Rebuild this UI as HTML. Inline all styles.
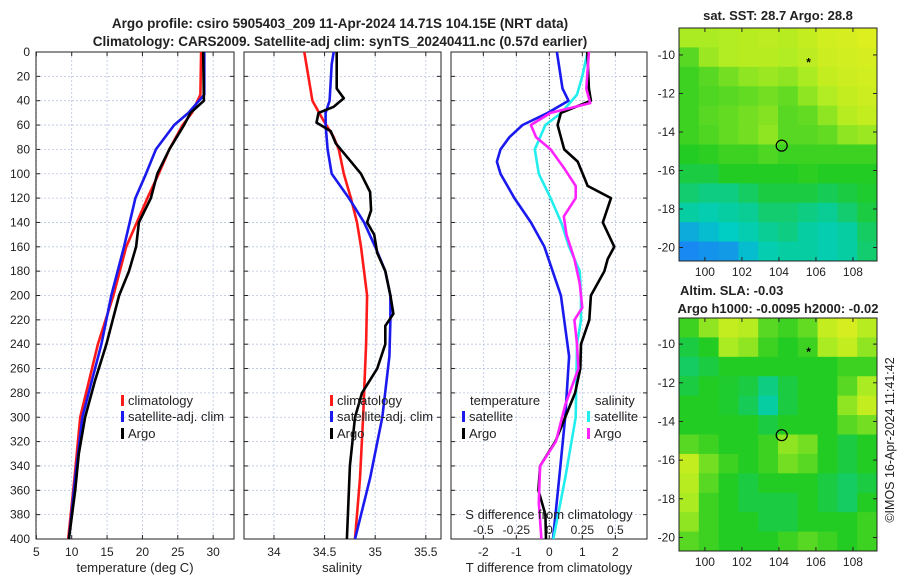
<!DOCTYPE html>
<html><head><meta charset="utf-8"><style>
body{margin:0;background:#fff;}
svg{display:block;font-family:"Liberation Sans","DejaVu Sans",sans-serif;}
</style></head><body>
<svg id="chart" width="900" height="580" viewBox="0 0 900 580"></svg>
<script>
// ---------- data ----------
const tDepthClim = [0,35,50,60,80,100,120,160,200,240,300,350,400];
const tClim      = [28.3,28.2,27.0,25.7,23.8,22.3,20.7,17.7,15.9,13.7,11.2,10.4,9.5];
const tDepthSat  = [0,35,50,60,80,100,120,160,200,240,300,350,400];
const tSat       = [28.75,28.75,26.5,24.5,21.9,20.5,19.0,17.4,15.6,14.2,11.5,10.5,9.6];
const tDepthArgo = [0,40,50,60,80,100,120,140,160,180,200,240,270,300,330,360,400];
const tArgo      = [28.6,28.7,26.8,25.9,23.8,22.1,21.2,19.5,19.1,18.1,16.7,14.9,13.3,11.9,11.0,10.5,9.6];

const sDepthClim = [0,40,55,70,80,100,120,140,160,200,240,300,350,400];
const sClim      = [34.30,34.38,34.48,34.59,34.64,34.69,34.76,34.82,34.86,34.92,34.91,34.88,34.85,34.80];
const sDepthSat  = [0,10,40,50,60,80,100,120,140,160,180,200,220,250,300,350,400];
const sSat       = [34.59,34.57,34.55,34.51,34.51,34.53,34.57,34.74,34.89,35.00,35.10,35.15,35.15,35.14,35.07,34.95,34.80];
const sDepthArgo = [0,30,38,45,50,58,65,75,90,100,115,130,140,150,165,180,200,215,225,240,260,280,300,340,400];
const sArgo      = [34.62,34.62,34.69,34.59,34.44,34.42,34.56,34.61,34.76,34.86,34.95,34.96,34.92,34.99,35.02,35.10,35.15,35.18,35.10,35.10,35.02,34.87,34.80,34.75,34.72];

const dDepthTSat = [0,30,40,50,60,70,80,90,100,120,140,160,180,200,220,250,300,350,400];
const dTSat      = [0.23,0.40,0.58,-0.05,-0.81,-1.21,-1.48,-1.59,-1.48,-1.06,-0.56,-0.15,0.10,0.35,0.45,0.60,0.48,0.30,0.11];
const dDepthSSat = [0,20,35,50,60,80,100,120,140,160,180,200,220,240,300,350,400];
const dSSat      = [0.29,0.25,0.21,0.09,-0.03,-0.11,-0.08,0.01,0.09,0.15,0.23,0.24,0.24,0.21,0.20,0.12,0.03];
const dDepthTArgo= [0,30,40,50,60,70,80,90,100,110,120,140,160,170,180,200,220,240,260,280,300,320,340,360,380,400];
const dTArgo     = [1.15,1.20,1.26,0.35,0.25,0.35,0.45,0.86,1.01,1.16,1.87,1.62,1.97,1.77,1.67,1.26,1.21,0.96,0.94,0.78,0.48,0.18,-0.28,-0.33,-0.12,-0.10];
const dDepthSArgo= [0,30,42,50,60,70,80,95,110,120,135,150,170,190,210,220,240,260,290,320,340,370,400];
const dSArgo     = [0.30,0.28,0.31,0.01,-0.14,-0.10,0.01,0.11,0.20,0.20,0.11,0.13,0.19,0.23,0.25,0.19,0.21,0.22,0.12,0.05,-0.07,-0.08,-0.06];

const depthTicks = [0,20,40,60,80,100,120,140,160,180,200,220,240,260,280,300,320,340,360,380,400];
const tTicks = [5,10,15,20,25,30];
const sTicks = [34,34.5,35,35.5];
const dTTicks = [-2,-1,0,1,2];
const dSTicks = [-0.5,-0.25,0,0.25,0.5];
const lonTicks = [100,102,104,106,108];
const latTicks = [-10,-12,-14,-16,-18,-20];

const sstGrid = [
[.75,.75,.78,.8,.82,.8,.85,.9,.92,.95],
[.6,.72,.78,.8,.8,.78,.82,.88,.9,.92],
[.55,.6,.65,.7,.72,.7,.75,.85,.88,.9],
[.55,.58,.6,.62,.65,.62,.7,.78,.85,.88],
[.55,.6,.62,.65,.68,.6,.62,.7,.8,.85],
[.55,.58,.62,.65,.7,.6,.6,.62,.7,.72],
[.5,.52,.55,.55,.58,.55,.55,.55,.55,.55],
[.45,.45,.5,.5,.5,.5,.52,.5,.5,.5],
[.38,.35,.35,.4,.45,.45,.45,.42,.45,.48],
[.3,.28,.3,.32,.38,.38,.35,.32,.38,.45],
[.15,.2,.25,.28,.32,.35,.3,.28,.3,.4],
[.05,.08,.1,.2,.28,.3,.3,.28,.3,.38]];
const slaGrid = [
[.55,.7,.85,.8,.6,.55,.62,.85,.92,.8],
[.45,.5,.75,.7,.55,.5,.55,.75,.85,.7],
[.4,.45,.5,.5,.5,.5,.5,.5,.55,.55],
[.45,.5,.48,.45,.35,.45,.5,.5,.6,.75],
[.5,.5,.48,.42,.3,.45,.5,.5,.7,.85],
[.5,.5,.5,.5,.45,.5,.5,.5,.6,.65],
[.6,.55,.5,.5,.55,.7,.65,.5,.45,.5],
[.85,.65,.55,.5,.55,.65,.6,.5,.45,.5],
[.8,.6,.5,.45,.5,.5,.5,.45,.4,.45],
[.75,.55,.5,.45,.45,.45,.5,.45,.4,.5],
[.7,.55,.5,.5,.45,.45,.5,.5,.5,.55],
[.6,.55,.5,.5,.5,.55,.6,.55,.5,.55]];

// ---------- helpers ----------
const svg = document.getElementById('chart');
const NS = 'http://www.w3.org/2000/svg';
function mk(tag, attrs, parent){const e=document.createElementNS(NS,tag);for(const k in attrs)e.setAttribute(k,attrs[k]);(parent||svg).appendChild(e);return e;}
function txt(x,y,s,attrs){const e=mk('text',Object.assign({x:x,y:y,'font-size':12,fill:'#222'},attrs||{}));e.textContent=s;return e;}

const Y0=52, Y1=539;
const yD = d => Y0 + (d/400)*(Y1-Y0);
const panels = [
 {x0:36,x1:234,min:4.95,max:32.95,ticks:tTicks},
 {x0:244,x1:441,min:33.704,max:35.65,ticks:sTicks},
 {x0:451,x1:647,min:-2.98,max:2.96,ticks:dTTicks}
];
function xf(p){return v=>p.x0+(v-p.min)/(p.max-p.min)*(p.x1-p.x0);}
const xT = xf(panels[0]), xS = xf(panels[1]), xDT = xf(panels[2]);
const xDS = v => xDT(v*4);

panels.forEach((p,i)=>{
  const g=mk('g',{});
  
  
  mk('rect',{x:p.x0,y:Y0,width:p.x1-p.x0,height:Y1-Y0,fill:'#fff'},g);
  const xs=xf(p);
  depthTicks.forEach(d=>{
    mk('line',{x1:p.x0,x2:p.x1,y1:yD(d),y2:yD(d),stroke:'#b8c4e0','stroke-width':0.8,'stroke-dasharray':'2,2'},g);
    mk('line',{x1:p.x0,x2:p.x0+4,y1:yD(d),y2:yD(d),stroke:'#222'},g);
    mk('line',{x1:p.x1-4,x2:p.x1,y1:yD(d),y2:yD(d),stroke:'#222'},g);
  });
  p.ticks.forEach(t=>{
    const x=xs(t);
    mk('line',{x1:x,x2:x,y1:Y0,y2:Y1,stroke:'#b8c4e0','stroke-width':0.8,'stroke-dasharray':'2,2'},g);
    mk('line',{x1:x,x2:x,y1:Y1,y2:Y1-4,stroke:'#222'},g);
    mk('line',{x1:x,x2:x,y1:Y0,y2:Y0+4,stroke:'#222'},g);
    const l=txt(x,556,String(t),{'text-anchor':'middle'});
    
    
  });
  mk('rect',{x:p.x0,y:Y0,width:p.x1-p.x0,height:Y1-Y0,fill:'none',stroke:'#222','stroke-width':1},g);
});
depthTicks.forEach(d=>{
  const l=txt(30,yD(d)+4,String(d),{'text-anchor':'end'});
  
  
});
mk('line',{x1:xDT(0),x2:xDT(0),y1:Y0,y2:Y1,stroke:'#555','stroke-width':1,'stroke-dasharray':'1,2'});

function line(depths,vals,fx,color,name){
  const pts=depths.map((d,i)=>fx(vals[i]).toFixed(1)+','+yD(d).toFixed(1)).join(' ');
  const e=mk('polyline',{points:pts,fill:'none',stroke:color,'stroke-width':2.6,'stroke-linejoin':'round'});
  
  
}
line(tDepthClim,tClim,xT,'#ff1a1a','temp-climatology-line');
line(tDepthSat,tSat,xT,'#1a1aee','temp-satellite-line');
line(tDepthArgo,tArgo,xT,'#000','temp-argo-line');
line(sDepthClim,sClim,xS,'#ff1a1a','sal-climatology-line');
line(sDepthSat,sSat,xS,'#1a1aee','sal-satellite-line');
line(sDepthArgo,sArgo,xS,'#000','sal-argo-line');
line(dDepthTSat,dTSat,xDT,'#1a1aee','tdiff-satellite-line');
line(dDepthSSat,dSSat,xDS,'#22eeee','sdiff-satellite-line');
line(dDepthTArgo,dTArgo,xDT,'#000','tdiff-argo-line');
line(dDepthSArgo,dSArgo,xDS,'#ff22ff','sdiff-argo-line');

function legend(x,y,color,label,name){
  const g=mk('g',{});
  
  
  mk('rect',{x:x,y:y-10,width:3,height:11,fill:color},g);
  const t=txt(x+7,y,label,{'font-size':13});g.appendChild(t);
}
legend(121,405,'#ff1a1a','climatology','legend-temp-climatology');
legend(121,421,'#1a1aee','satellite-adj. clim','legend-temp-satellite');
legend(121,438,'#000','Argo','legend-temp-argo');
legend(330,405,'#ff1a1a','climatology','legend-sal-climatology');
legend(330,421,'#1a1aee','satellite-adj. clim','legend-sal-satellite');
legend(330,438,'#000','Argo','legend-sal-argo');
txt(470,405,'temperature',{'font-size':13});
legend(462,421,'#1a1aee','satellite','legend-tdiff-satellite');
legend(462,438,'#000','Argo','legend-tdiff-argo');
txt(595,405,'salinity',{'font-size':13});
legend(587,421,'#22eeee','satellite','legend-sdiff-satellite');
legend(587,438,'#ff22ff','Argo','legend-sdiff-argo');

txt(549,519,'S difference from climatology',{'font-size':13,'text-anchor':'middle'});
dSTicks.forEach(t=>{const l=txt(xDS(t),534,String(t),{'text-anchor':'middle','font-size':12});
  });

txt(135,572,'temperature (deg C)',{'font-size':13,'text-anchor':'middle'});
txt(342,572,'salinity',{'font-size':13,'text-anchor':'middle'});
txt(549,572,'T difference from climatology',{'font-size':13,'text-anchor':'middle'});

txt(340,28,'Argo profile: csiro 5905403_209 11-Apr-2024 14.71S 104.15E (NRT data)',{'font-size':13.5,'font-weight':'bold','text-anchor':'middle'});
txt(340,46,'Climatology: CARS2009. Satellite-adj clim: synTS_20240411.nc (0.57d earlier)',{'font-size':13.5,'font-weight':'bold','text-anchor':'middle'});

// ---------- maps ----------
function cmap(v){
  const stops=[[0,[30,120,255]],[0.25,[0,205,195]],[0.5,[34,204,34]],[0.75,[170,235,34]],[1,[235,240,30]]];
  for(let i=1;i<stops.length;i++){if(v<=stops[i][0]){const a=stops[i-1],b=stops[i];const f=(v-a[0])/(b[0]-a[0]);
    const c=a[1].map((q,j)=>Math.round(q+(b[1][j]-q)*f));return 'rgb('+c.join(',')+')';}}
  return 'rgb(235,240,30)';
}
function map(grid,X0,Y0m,X1,Y1m,latTop,latBot,name){
  const g=mk('g',{});
  
  
  const lonL=98.6, lonR=109.3;
  const xL=v=>X0+(v-lonL)/(lonR-lonL)*(X1-X0);
  const yL=v=>Y0m+(latTop-v)/(latTop-latBot)*(Y1m-Y0m);
  const rows=grid.length, cols=grid[0].length;
  const cw=(X1-X0)/cols, ch=(Y1m-Y0m)/rows;
  grid.forEach((r,i)=>r.forEach((v,j)=>{
    const c=mk('rect',{x:X0+j*cw,y:Y0m+i*ch,width:cw+0.5,height:ch+0.5,fill:cmap(v)},g);
    
    
  }));
  mk('rect',{x:X0,y:Y0m,width:X1-X0,height:Y1m-Y0m,fill:'none',stroke:'#222'},g);
  lonTicks.forEach(t=>{const x=xL(t);
    mk('line',{x1:x,x2:x,y1:Y1m,y2:Y1m-4,stroke:'#222'},g);
    mk('line',{x1:x,x2:x,y1:Y0m,y2:Y0m+4,stroke:'#222'},g);
    const l=txt(x,Y1m+15,String(t),{'text-anchor':'middle'});g.appendChild(l);});
  latTicks.forEach(t=>{const y=yL(t);
    mk('line',{x1:X0,x2:X0+4,y1:y,y2:y,stroke:'#222'},g);
    mk('line',{x1:X1-4,x2:X1,y1:y,y2:y,stroke:'#222'},g);
    const l=txt(X0-4,y+4,String(t),{'text-anchor':'end'});g.appendChild(l);});
  const s=txt(xL(105.6),yL(-10.4)+4,'*',{'text-anchor':'middle','font-size':12,'font-weight':'bold',fill:'#000'});
  g.appendChild(s);
  const c=mk('circle',{cx:xL(104.15),cy:yL(-14.71),r:5.5,fill:'none',stroke:'#000','stroke-width':1.2},g);
  
  
}
map(sstGrid,679,28,877,261,-8.6,-20.7,'sst-map');
map(slaGrid,679,318,877,551,-8.65,-20.7,'sla-map');
txt(778,20,'sat. SST: 28.7 Argo: 28.8',{'font-size':13,'font-weight':'bold','text-anchor':'middle'});
txt(680,295,'Altim. SLA: -0.03',{'font-size':13,'font-weight':'bold'});
txt(778,313,'Argo h1000: -0.0095 h2000: -0.02',{'font-size':13,'font-weight':'bold','text-anchor':'middle'});
const cr=txt(0,0,'©IMOS 16-Apr-2024 11:41:42',{'font-size':12.5,'text-anchor':'middle',transform:'translate(894,440) rotate(-90)'});


</script>
</body></html>
